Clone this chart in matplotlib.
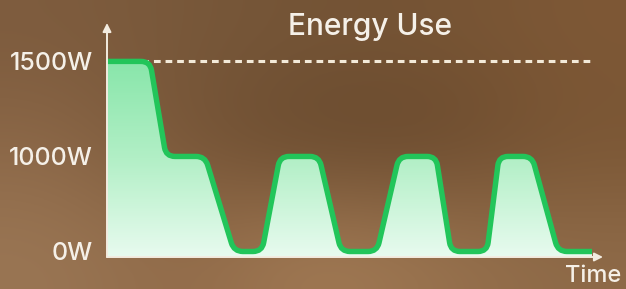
import numpy as np
import matplotlib
matplotlib.use('Agg')
import matplotlib.pyplot as plt
from matplotlib.path import Path
from matplotlib.patches import PathPatch
from matplotlib.colors import LinearSegmentedColormap

# data (time is arbitrary units)
time = [0, 43, 59, 98, 127, 155, 173, 212, 234, 270, 292, 329, 344, 380, 392, 425, 451, 485]
watts = [1500, 1500, 1000, 1000, 0, 0, 1000, 1000, 0, 0, 1000, 1000, 0, 0, 1000, 1000, 0, 0]
tick_watts = [0, 1000, 1500]
tick_labels = ['0W', '1000W', '1500W']
peak_watts = 1500

plt.rcParams['font.family'] = ['Inter', 'DejaVu Sans']
plt.rcParams['font.weight'] = 'medium'
txt = '#f5f0e8'

fig = plt.figure(figsize=(6.26, 2.89), dpi=100)

# blurred brown backdrop
bg_colors = np.array([
    [[126, 92, 62], [120, 88, 58], [116, 84, 54], [118, 84, 52], [126, 88, 54]],
    [[140, 104, 72], [118, 84, 54], [102, 72, 44], [104, 72, 44], [122, 86, 52]],
    [[154, 118, 84], [144, 106, 72], [164, 124, 86], [152, 114, 78], [142, 106, 72]],
]) / 255
bg = fig.add_axes([0, 0, 1, 1], zorder=0)
bg.imshow(bg_colors, aspect='auto', interpolation='bicubic', extent=[0, 1, 0, 1])
bg.axis('off')

ax = fig.add_axes([107/626, 1 - 257/289, 496/626, 234/289], zorder=1)
ax.patch.set_alpha(0)

# the chart spaces 0 / 1000 / 1500 W evenly, so use a piecewise scale
lv_w = [-1000, 0, 1000, 1500, 3000]
lv_pos = [-1, 0, 1, 2, 5]
ax.set_yscale('function', functions=(lambda y: np.interp(y, lv_w, lv_pos),
                                     lambda y: np.interp(y, lv_pos, lv_w)))
ax.set_xlim(0, 496)
ax.set_ylim(-58, 1702)
for s in ax.spines.values():
    s.set_visible(False)
ax.set_xticks([])
ax.set_yticks(tick_watts, tick_labels)
ax.tick_params(axis='y', length=0, pad=10, labelsize=18, labelcolor=txt)


def rounded_path(xs, ys, r=9):
    # round the corners in pixel space, then go back to data coords
    pts = ax.transData.transform(np.column_stack([xs, ys]))
    verts = [pts[0]]
    codes = [Path.MOVETO]
    for i in range(1, len(pts) - 1):
        p0, p1, p2 = pts[i - 1], pts[i], pts[i + 1]
        d1 = p1 - p0
        d2 = p2 - p1
        l1 = np.hypot(*d1)
        l2 = np.hypot(*d2)
        a = p1 - d1 / l1 * min(r, l1 / 2)
        b = p1 + d2 / l2 * min(r, l2 / 2)
        verts += [a, p1, b]
        codes += [Path.LINETO, Path.CURVE3, Path.CURVE3]
    verts.append(pts[-1])
    codes.append(Path.LINETO)
    verts = ax.transData.inverted().transform(np.array(verts))
    return verts, codes


verts, codes = rounded_path(time, watts)
ylo = ax.get_ylim()[0]

# gradient fill under the curve
fill_verts = np.vstack([verts, [[time[-1], ylo], [time[0], ylo], verts[0]]])
fill_codes = codes + [Path.LINETO, Path.LINETO, Path.CLOSEPOLY]
fill_patch = PathPatch(Path(fill_verts, fill_codes), facecolor='none', edgecolor='none')
ax.add_patch(fill_patch)
cmap = LinearSegmentedColormap.from_list('g', ['#e8fbef', '#b2efc6', '#88e6aa'])
grad = np.linspace(0, 1, 256).reshape(-1, 1)
im = ax.imshow(grad, extent=[0, 1, 0, 0.84], transform=ax.transAxes, origin='lower',
               aspect='auto', cmap=cmap, zorder=1)
im.set_clip_path(fill_patch)

# dashed 1500W line
ax.plot([time[0], time[-1]], [peak_watts, peak_watts], color='#f3ead9', lw=2.2,
        ls=(0, (2.2, 1.6)), zorder=2)

# the energy line
line = PathPatch(Path(verts, codes), facecolor='none', edgecolor='#22c55a', lw=3.9,
                 capstyle='butt', joinstyle='round', zorder=4)
ax.add_patch(line)

# axes with arrows
arrow = dict(arrowstyle='-|>,head_length=0.5,head_width=0.25', color='#f3ece0', lw=1.4,
             shrinkA=0, shrinkB=0)
ax.annotate('', xy=(0, 1), xytext=(0, 0), xycoords='axes fraction', arrowprops=arrow, zorder=5)
ax.annotate('', xy=(1, 0), xytext=(0, 0), xycoords='axes fraction', arrowprops=arrow, zorder=5)

fig.text(370/626, 1 - 27/289, 'Energy Use', ha='center', va='center', fontsize=21.5, color=txt)
fig.text(621/626, 1 - 276/289, 'Time', ha='right', va='center', fontsize=17, color=txt)

fig.savefig('out.png', dpi=100)
